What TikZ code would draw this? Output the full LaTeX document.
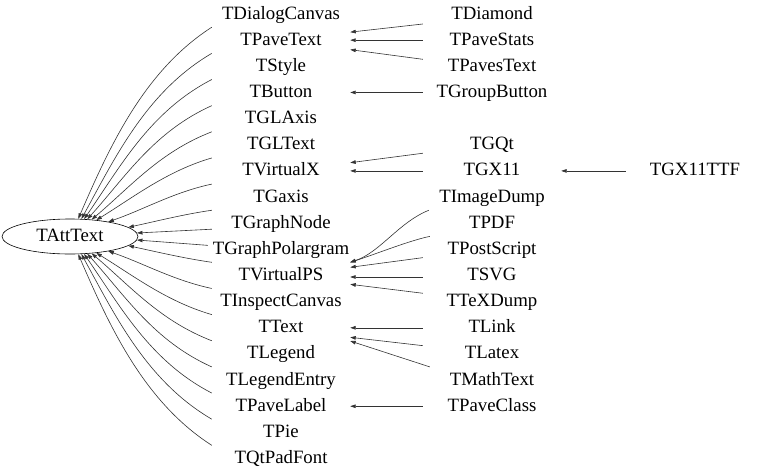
\documentclass[tikz,border=0pt]{standalone}
\usepackage{fontspec}
\setmainfont{Liberation Serif}
\usetikzlibrary{shapes.geometric,arrows.meta,calc}
\newcommand{\fsz}{\fontsize{18.8}{21}\selectfont}
\tikzset{
  cls/.style={minimum width=138pt, minimum height=26pt, inner sep=0pt,
              text height=14.1pt, text depth=4.1pt, font=\fsz},
  arr/.style={draw=black!80, line width=0.6pt, -{Triangle[length=5.5pt,width=3.6pt]}},
}
\begin{document}
\begin{tikzpicture}[x=1pt,y=-1pt]
\useasboundingbox (0,0) rectangle (768,474);
% root
\node[draw, ellipse, minimum width=136pt, minimum height=35pt, inner sep=0pt,
      line width=0.6pt, text height=14.1pt, text depth=4.1pt, font=\fsz]
      (TAttText) at (70,236.5) {TAttText};
% column 2
\node[cls] (TDialogCanvas)   at (281,14)     {TDialogCanvas};
\node[cls] (TPaveText)       at (281,40.15)  {TPaveText};
\node[cls] (TStyle)          at (281,66.3)   {TStyle};
\node[cls] (TButton)         at (281,92.45)  {TButton};
\node[cls] (TGLAxis)         at (281,118.6)  {TGLAxis};
\node[cls] (TGLText)         at (281,144.75) {TGLText};
\node[cls] (TVirtualX)       at (281,170.9)  {TVirtualX};
\node[cls] (TGaxis)          at (281,197.05) {TGaxis};
\node[cls] (TGraphNode)      at (281,223.2)  {TGraphNode};
\node[cls] (TGraphPolargram) at (281,249.35) {TGraphPolargram};
\node[cls] (TVirtualPS)      at (281,275.5)  {TVirtualPS};
\node[cls] (TInspectCanvas)  at (281,301.65) {TInspectCanvas};
\node[cls] (TText)           at (281,327.8)  {TText};
\node[cls] (TLegend)         at (281,353.95) {TLegend};
\node[cls] (TLegendEntry)    at (281,380.1)  {TLegendEntry};
\node[cls] (TPaveLabel)      at (281,406.25) {TPaveLabel};
\node[cls] (TPie)            at (281,432.4)  {TPie};
\node[cls] (TQtPadFont)      at (281,458.55) {TQtPadFont};
% column 3
\node[cls] (TDiamond)     at (492,14)     {TDiamond};
\node[cls] (TPaveStats)   at (492,40.15)  {TPaveStats};
\node[cls] (TPavesText)   at (492,66.3)   {TPavesText};
\node[cls] (TGroupButton) at (492,92.45)  {TGroupButton};
\node[cls] (TGQt)         at (492,144.75) {TGQt};
\node[cls] (TGX11)        at (492,170.9)  {TGX11};
\node[cls] (TImageDump)   at (492,197.05) {TImageDump};
\node[cls] (TPDF)         at (492,223.2)  {TPDF};
\node[cls] (TPostScript)  at (492,249.35) {TPostScript};
\node[cls] (TSVG)         at (492,275.5)  {TSVG};
\node[cls] (TTeXDump)     at (492,301.65) {TTeXDump};
\node[cls] (TLink)        at (492,327.8)  {TLink};
\node[cls] (TLatex)       at (492,353.95) {TLatex};
\node[cls] (TMathText)    at (492,380.1)  {TMathText};
\node[cls] (TPaveClass)   at (492,406.25) {TPaveClass};
% column 4
\node[cls] (TGX11TTF) at (695,170.9) {TGX11TTF};
% edges to root
\draw[arr] (TDialogCanvas.south west) .. controls +(-67,43) and +(32,-74) .. (TAttText.65);
\draw[arr] (TPaveText.south west) .. controls +(-65,38) and +(34,-62) .. (TAttText.57);
\draw[arr] (TStyle.south west) .. controls +(-62,32) and +(36,-52) .. (TAttText.51);
\draw[arr] (TButton.south west) .. controls +(-58,26) and +(38,-42) .. (TAttText.45);
\draw[arr] (TGLAxis.south west) .. controls +(-52,20) and +(38,-32) .. (TAttText.38);
\draw[arr] (TGLText.south west) .. controls +(-45,13) and +(36,-22) .. (TAttText.32);
\draw[arr] (TVirtualX.south west) .. controls +(-38,8) and +(35,-12) .. (TAttText.21);
\draw[arr] (TGaxis.south west) .. controls +(-28,4) and +(28,-6) .. (TAttText.9);
\draw[arr] ($(TGraphNode.west)+(0,6)$) -- (TAttText.3);
\draw[arr] ($(TGraphPolargram.west)+(-4,-4)$) -- (TAttText.-3);
\draw[arr] (TVirtualPS.north west) .. controls +(-28,-4) and +(28,6) .. (TAttText.-9);
\draw[arr] (TInspectCanvas.north west) .. controls +(-38,-8) and +(35,12) .. (TAttText.-21);
\draw[arr] (TText.north west) .. controls +(-45,-13) and +(36,22) .. (TAttText.-32);
\draw[arr] (TLegend.north west) .. controls +(-52,-20) and +(38,32) .. (TAttText.-38);
\draw[arr] (TLegendEntry.north west) .. controls +(-58,-26) and +(38,42) .. (TAttText.-45);
\draw[arr] (TPaveLabel.north west) .. controls +(-62,-32) and +(36,52) .. (TAttText.-51);
\draw[arr] (TPie.north west) .. controls +(-65,-38) and +(34,62) .. (TAttText.-57);
\draw[arr] (TQtPadFont.north west) .. controls +(-67,-43) and +(32,74) .. (TAttText.-65);
% edges col3 -> col2
\draw[arr] ($(TDiamond.west)+(0,10)$) -- ($(TPaveText.east)+(0,-8)$);
\draw[arr] (TPaveStats.west) -- (TPaveText.east);
\draw[arr] ($(TPavesText.west)+(0,-7)$) -- ($(TPaveText.east)+(0,9.5)$);
\draw[arr] (TGroupButton.west) -- (TButton.east);
\draw[arr] ($(TGQt.west)+(0,8.5)$) -- ($(TVirtualX.east)+(0,-8.2)$);
\draw[arr] (TGX11.west) -- (TVirtualX.east);
\draw[arr] (TGX11TTF.west) -- (TGX11.east);
\draw[arr] ($(TImageDump.south west)+(6,0)$) .. controls +(-30,12) and +(30,-10) .. (TVirtualPS.north east);
\draw[arr] ($(TPDF.south west)+(7,0)$) .. controls +(-20,4) and +(25,-8) .. (TVirtualPS.north east);
\draw[arr] ($(TPostScript.west)+(0,8.3)$) -- ($(TVirtualPS.east)+(0,-8.2)$);
\draw[arr] ($(TSVG.west)+(0,1.5)$) -- ($(TVirtualPS.east)+(0,1.5)$);
\draw[arr] ($(TTeXDump.west)+(0,-8.4)$) -- ($(TVirtualPS.east)+(0,8.8)$);
\draw[arr] (TLink.west) -- (TText.east);
\draw[arr] ($(TLatex.west)+(0,-8.3)$) -- ($(TText.east)+(0,9.5)$);
\draw[arr] ($(TMathText.north west)+(7,0)$) -- (TText.south east);
\draw[arr] (TPaveClass.west) -- (TPaveLabel.east);
\end{tikzpicture}
\end{document}
